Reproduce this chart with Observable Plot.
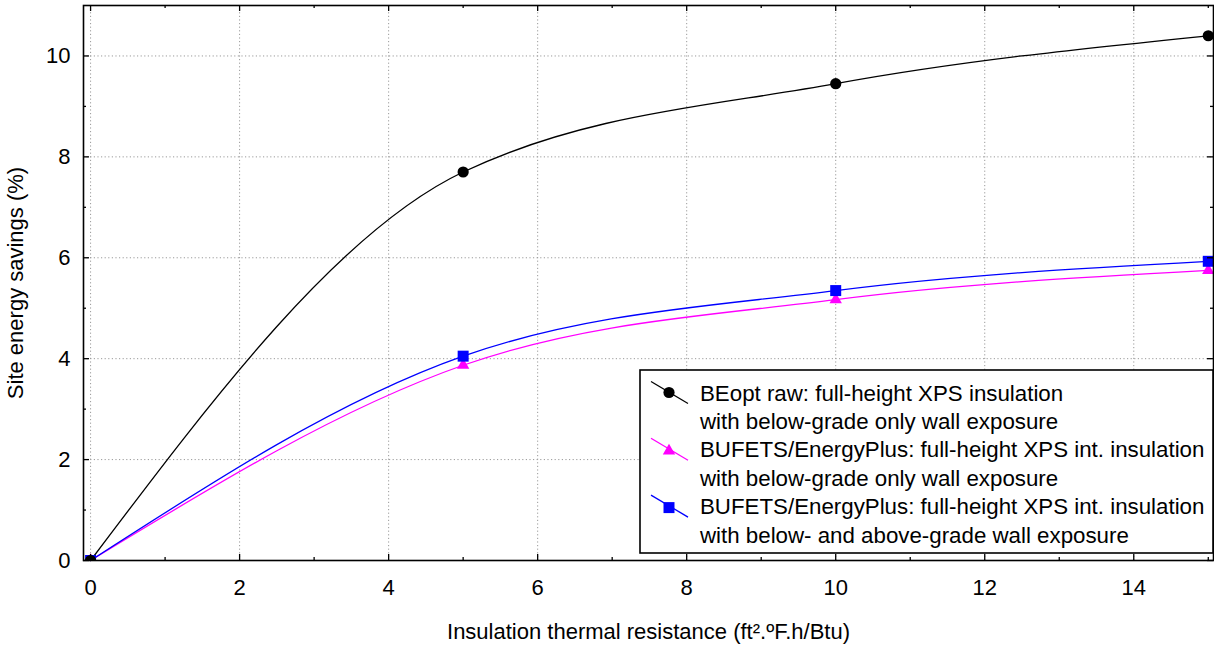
<!DOCTYPE html>
<html><head><meta charset="utf-8">
<script src="https://cdn.jsdelivr.net/npm/d3@7"></script>
<script src="https://cdn.jsdelivr.net/npm/@observablehq/plot@0.6"></script>
<style>body{margin:0;background:#fff} #chart{position:relative;width:1214px;height:645px}</style>
</head><body><div id="chart"></div>
<script>
// ---- data ----
const rValues = [0, 5, 10, 15];
const beoptSavings = [0, 7.7, 9.45, 10.4];
const bufetsBelowSavings = [0, 3.87, 5.17, 5.75];
const bufetsBothSavings = [0, 4.05, 5.35, 5.93];
const seriesLabels = [
  ["BEopt raw: full-height XPS insulation", "with below-grade only wall exposure"],
  ["BUFETS/EnergyPlus: full-height XPS int. insulation", "with below-grade only wall exposure"],
  ["BUFETS/EnergyPlus: full-height XPS int. insulation", "with below- and above-grade wall exposure"]
];
const seriesColors = ["#000000", "#ff00ff", "#0000ff"];
const seriesSymbols = ["circle", "triangle", "square"];
const seriesRadius = [5.6, 4.6, 6.2];
const xTicks = [0, 2, 4, 6, 8, 10, 12, 14];
const xMinor = [1, 3, 5, 7, 9, 11, 13, 15];
const yTicks = [0, 2, 4, 6, 8, 10];
const yMinor = [1, 3, 5, 7, 9];
const xLabel = "Insulation thermal resistance (ft².ºF.h/Btu)";
const yLabel = "Site energy savings (%)";

const seriesValues = [beoptSavings, bufetsBelowSavings, bufetsBothSavings];
const rows = seriesValues.flatMap((vals, s) => vals.map((v, i) => ({s, x: rValues[i], y: v})));

const W = 1214, H = 645, mt = 5, mr = 1, mb = 85, ml = 83;
const fh = H - mt - mb, fw = W - ml - mr;
const FONT = "'Liberation Sans', Arial, sans-serif";

const drawOrder = [1, 2, 0];
const marks = [
  Plot.gridX(xTicks, {stroke: "#9a9a9a", strokeOpacity: 1, strokeDasharray: "1.2,2.4"}),
  Plot.gridY(yTicks.filter(d => d > 0), {stroke: "#9a9a9a", strokeOpacity: 1, strokeDasharray: "1.2,2.4"}),
  ...drawOrder.map(s => Plot.line(rows.filter(d => d.s === s), {x: "x", y: "y", stroke: seriesColors[s], strokeWidth: 1.3, curve: "monotone-x"})),
  ...drawOrder.map(s => Plot.dot(rows.filter(d => d.s === s), {x: "x", y: "y", symbol: seriesSymbols[s], r: seriesRadius[s], fill: seriesColors[s], stroke: "none", clip: "frame"})),
  // inward ticks
  Plot.tickX(xTicks, {x: d => d, insetTop: fh - 6, stroke: "black", strokeWidth: 1.3}),
  Plot.tickX(xTicks, {x: d => d, insetBottom: fh - 6, stroke: "black", strokeWidth: 1.3}),
  Plot.tickX(xMinor, {x: d => d, insetTop: fh - 3, stroke: "black", strokeWidth: 1.3}),
  Plot.tickX(xMinor, {x: d => d, insetBottom: fh - 3, stroke: "black", strokeWidth: 1.3}),
  Plot.tickY(yTicks, {y: d => d, insetRight: fw - 6, stroke: "black", strokeWidth: 1.3}),
  Plot.tickY(yTicks, {y: d => d, insetLeft: fw - 6, stroke: "black", strokeWidth: 1.3}),
  Plot.tickY(yMinor, {y: d => d, insetRight: fw - 3, stroke: "black", strokeWidth: 1.3}),
  Plot.tickY(yMinor, {y: d => d, insetLeft: fw - 3, stroke: "black", strokeWidth: 1.3}),
  Plot.frame({stroke: "black", strokeWidth: 1.6}),
  Plot.axisX(xTicks, {tickSize: 0, tickPadding: 19, tickFormat: d => String(d), label: xLabel, labelAnchor: "center", labelOffset: 78, labelArrow: "none"}),
  Plot.axisY(yTicks, {tickSize: 0, tickPadding: 13, tickFormat: d => String(d), label: yLabel, labelAnchor: "center", labelOffset: 76, labelArrow: "none"})
];

const chart = Plot.plot({
  width: W, height: H,
  marginTop: mt, marginRight: mr, marginBottom: mb, marginLeft: ml,
  x: {domain: [-0.095, 15.07]},
  y: {domain: [0, 11]},
  style: {fontFamily: FONT, fontSize: "22px", color: "#000", background: "#fff"},
  marks
});
document.getElementById("chart").appendChild(chart);

// ---- legend (drawn into the plot svg) ----
const svgEl = chart.tagName.toLowerCase() === "svg" ? chart : chart.querySelector("svg");
const svg = d3.select(svgEl);
const lg = svg.append("g").attr("font-family", FONT).attr("font-size", 22.3).attr("text-anchor", "start");
const box = {x0: 640, y0: 370, x1: W - mr, y1: 553};
lg.append("rect").attr("x", box.x0).attr("y", box.y0).attr("width", box.x1 - box.x0).attr("height", box.y1 - box.y0)
  .attr("fill", "white").attr("stroke", "black").attr("stroke-width", 1.6);
const rowStep = 28.4, firstRow = 392.5;
const symMap = {circle: d3.symbolCircle, triangle: d3.symbolTriangle, square: d3.symbolSquare};
seriesLabels.forEach((lines, s) => {
  const yc = firstRow + s * 2 * rowStep;
  lg.append("line").attr("x1", 651).attr("y1", yc - 11).attr("x2", 688).attr("y2", yc + 11)
    .attr("stroke", seriesColors[s]).attr("stroke-width", 1.3);
  lg.append("path").attr("transform", `translate(669,${yc + (s ? 1.5 : 0)})`)
    .attr("d", d3.symbol(symMap[seriesSymbols[s]], Math.PI * seriesRadius[s] ** 2)())
    .attr("fill", seriesColors[s]);
  lines.forEach((t, k) => {
    lg.append("text").attr("x", 700).attr("y", yc + k * rowStep).attr("dy", "0.36em")
      .attr("text-anchor", "start").attr("fill", "black").text(t);
  });
});
</script>
</body></html>
